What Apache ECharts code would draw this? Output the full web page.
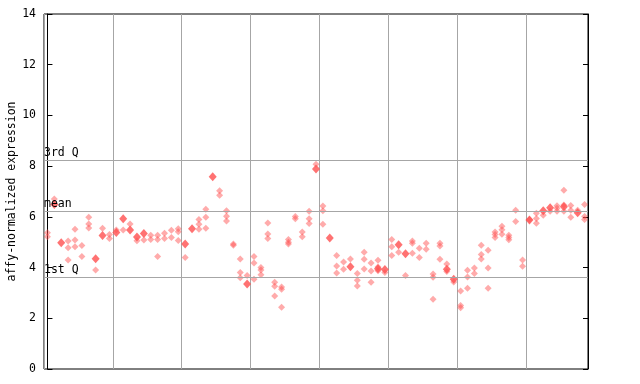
<!DOCTYPE html>
<html>
<head>
<meta charset="utf-8">
<script src="https://cdn.jsdelivr.net/npm/echarts@6/dist/echarts.min.js"></script>
<style>
html,body{margin:0;padding:0;background:#fff;}
#c{width:640px;height:384px;}
</style>
</head>
<body>
<div id="c"></div>
<script>
// sample index (0..78, 8 groups of 10) and expression values
const openIdx = [0,0,1,3,3,3,4,4,4,5,5,6,6,6,7,8,9,9,10,11,12,13,14,15,15,16,16,16,17,17,18,18,19,19,19,
  20,22,22,22,23,23,23,25,25,26,26,26,27,27,28,28,28,29,30,30,30,31,31,31,32,32,32,33,33,33,34,34,34,
  35,35,35,36,36,37,37,38,38,38,39,40,40,40,42,42,42,43,43,44,45,45,45,46,46,46,47,47,47,48,48,48,49,
  50,50,50,51,52,53,53,53,54,54,55,55,56,56,56,57,57,57,58,58,59,
  60,60,60,61,61,61,62,62,63,63,63,64,64,64,65,65,65,66,66,66,67,67,67,68,68,69,69,
  70,71,71,71,72,73,74,74,74,75,75,75,76,76,76,77,78,78,78];
const openVal = [5.37,5.22,6.70,5.05,4.78,4.30,5.51,5.09,4.82,4.87,4.44,5.98,5.72,5.56,3.90,5.55,5.30,5.15,5.48,5.48,5.72,5.06,5.09,5.27,5.11,5.27,5.11,4.44,5.35,5.15,5.47,5.19,5.53,5.41,5.07,
  4.40,5.90,5.71,5.51,6.30,5.98,5.55,7.03,6.85,6.24,6.02,5.84,4.93,4.88,4.34,3.81,3.60,3.69,4.44,4.18,3.54,4.00,3.90,3.72,5.76,5.32,5.15,3.42,3.26,2.88,3.23,3.15,2.44,
  5.11,5.00,4.93,6.01,5.93,5.40,5.22,6.22,5.93,5.74,8.07,6.43,6.24,5.71,4.48,4.06,3.79,4.22,3.93,4.34,3.77,3.50,3.27,4.60,4.33,3.94,4.18,3.86,3.42,4.29,4.02,3.87,3.81,
  5.11,4.82,4.48,4.60,3.69,5.05,4.96,4.56,4.76,4.40,4.96,4.72,3.75,3.62,2.75,4.96,4.85,4.33,4.14,3.85,3.43,
  3.08,2.50,2.42,3.89,3.63,3.18,3.98,3.77,4.88,4.52,4.34,4.68,3.98,3.18,5.40,5.30,5.19,5.63,5.49,5.31,5.27,5.19,5.10,6.26,5.82,4.30,4.05,
  5.90,6.14,5.94,5.75,6.06,6.22,6.44,6.34,6.22,7.05,6.47,6.22,6.45,6.26,5.98,6.26,6.49,6.01,5.90];
const solidIdx = [1,2,7,8,10,11,12,13,14,20,21,24,29,39,41,44,48,49,51,52,58,59,70,72,73,75,77];
const solidVal = [6.49,4.98,4.35,5.26,5.38,5.93,5.48,5.21,5.34,4.93,5.53,7.58,3.35,7.89,5.17,4.03,3.95,3.92,4.90,4.55,3.93,3.54,5.88,6.24,6.36,6.40,6.16];
const quartileNames = ['3rd Q','mean','1st Q'];
const quartileVals = [8.23,6.22,3.63];
const yTicks = [0,2,4,6,8,10,12,14];

const font = 'DejaVu Sans Mono';
const openData = openIdx.map((x,i)=>[x, openVal[i]]);
const solidData = solidIdx.map((x,i)=>[x, solidVal[i]]);

const chart = echarts.init(document.getElementById('c'), null, {renderer:'canvas'});
chart.setOption({
  animation:false,
  backgroundColor:'#ffffff',
  grid:{left:44, right:52, top:14, bottom:15, containLabel:false, outerBoundsMode:'none',
    show:true, borderColor:'#000', borderWidth:1, backgroundColor:'transparent'},
  xAxis:{type:'value', min:-0.5, max:78.5, interval:10,
    axisLine:{show:false}, axisTick:{show:false}, axisLabel:{show:false},
    splitLine:{show:true, lineStyle:{color:'#a6a6a6', width:1}}},
  yAxis:[
    {type:'value', min:yTicks[0], max:yTicks[yTicks.length-1], interval:2, position:'left',
     name:'affy-normalized expression', nameLocation:'middle', nameGap:26, nameRotate:90, nameMoveOverlap:false,
     nameTextStyle:{fontFamily:font, fontSize:11.5, color:'#000'},
     axisLine:{show:true, lineStyle:{color:'#000'}},
     axisTick:{show:true, inside:true, length:5, lineStyle:{color:'#000'}},
     axisLabel:{show:true, margin:8, fontFamily:font, fontSize:11.5, color:'#000'},
     splitLine:{show:false}},
    {type:'value', min:yTicks[0], max:yTicks[yTicks.length-1], interval:2, position:'right',
     axisLine:{show:true, lineStyle:{color:'#000'}},
     axisTick:{show:true, inside:true, length:5, lineStyle:{color:'#000'}},
     axisLabel:{show:false}, splitLine:{show:false}}
  ],
  series:[
    {type:'scatter', data:openData, symbol:'diamond', symbolSize:[7,7],
     itemStyle:{color:'rgba(255,80,80,0.6)'}, z:2,
     markLine:{silent:true, symbol:['none','none'], animation:false,
       lineStyle:{color:'#a6a6a6', type:'solid', width:1},
       label:{show:true, position:'insideStartTop', distance:[0,1], fontFamily:font, fontSize:11.5, color:'#000',
         formatter:p=>p.name},
       data:quartileNames.map((n,i)=>({name:n, yAxis:quartileVals[i]}))}},
    {type:'scatter', data:solidData, symbol:'diamond', symbolSize:[8,9],
     itemStyle:{color:'#ff4f4f'}, z:3}
  ]
});
</script>
</body>
</html>
